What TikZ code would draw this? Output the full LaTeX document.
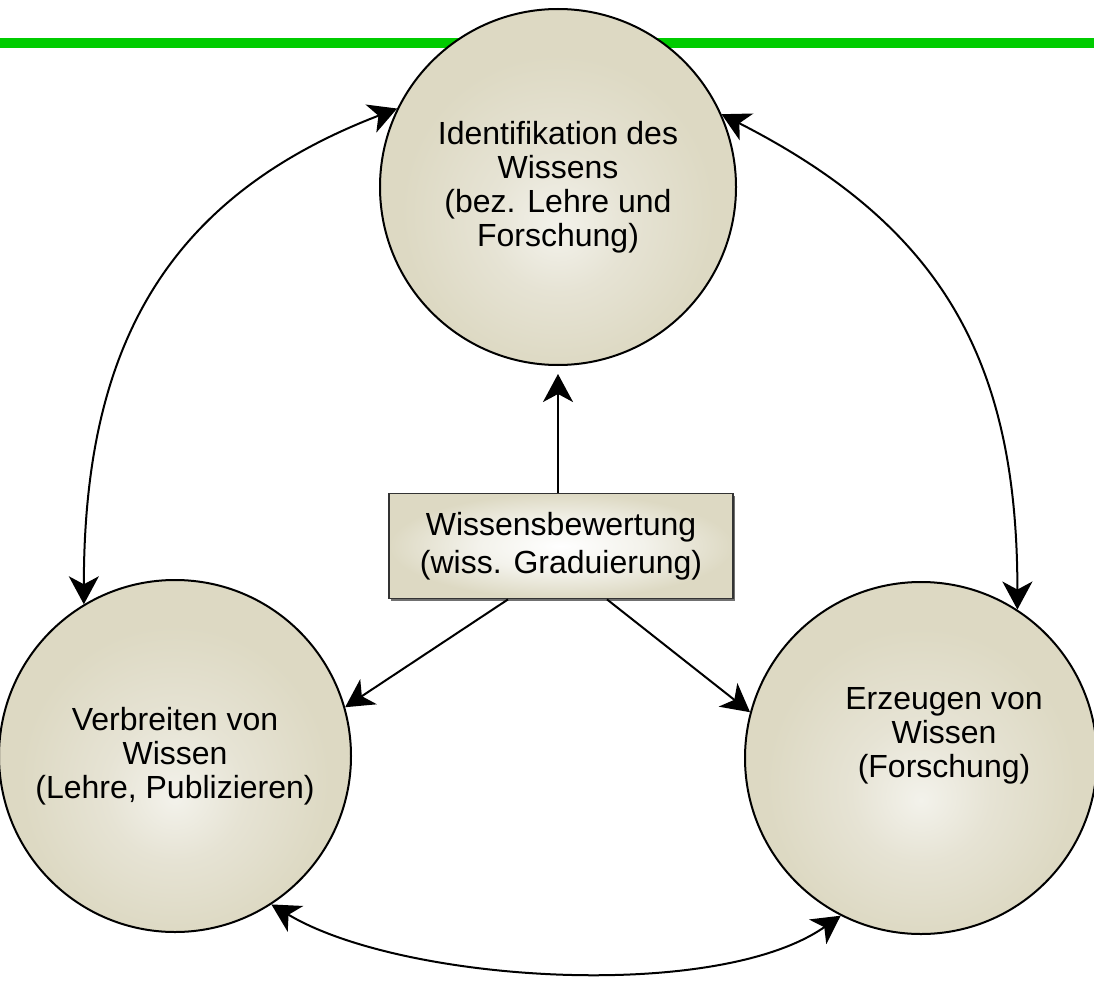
\documentclass[tikz,border=0pt]{standalone}
\usepackage{fontspec}
\setmainfont{Liberation Sans}
\usetikzlibrary{arrows.meta,calc,shadows}
\definecolor{beige}{HTML}{DDD9C3}
\definecolor{beigelight}{HTML}{F3F2EB}
\definecolor{beigemid}{HTML}{E6E3D4}
\definecolor{gline}{HTML}{00CC00}
\pgfdeclareradialshading{glow}{\pgfpoint{0bp}{-6bp}}{color(0bp)=(beigelight); color(10bp)=(beigemid); color(22bp)=(beige); color(50bp)=(beige)}
\pgfdeclareradialshading{boxglow}{\pgfpoint{0bp}{0bp}}{color(0bp)=(white); color(12bp)=(beigelight); color(25bp)=(beige); color(50bp)=(beige)}
\tikzset{
  bubble/.style={circle, draw=black, line width=2pt, minimum size=352pt, inner sep=0pt,
    shade, shading=glow, align=center, font=\fontsize{32}{34}\selectfont},
  ctext/.style={align=center, font=\fontsize{32}{34}\selectfont, inner sep=0pt},
  sbox/.style={rectangle, draw=black!80, line width=1.8pt, minimum width=344pt, minimum height=105pt,
    shade, shading=boxglow, align=center, font=\fontsize{32}{38}\selectfont,
    drop shadow={shadow xshift=2pt, shadow yshift=-2.5pt, fill=black!70, opacity=0.8}},
  conn/.style={draw=black, line width=2pt},
  greenbar/.style={draw=gline, line width=10pt}
}
\begin{document}
\begin{tikzpicture}[x=1pt,y=-1pt, >={Stealth[length=28pt,width=30pt,inset=8pt]}]
\useasboundingbox (0,0) rectangle (1094,1003);
\coordinate (gl) at (0,43);
\coordinate (gr) at (1094,43);
\draw[greenbar] (gl) -- (gr);

\node[bubble, minimum size=356pt] (T) at (558,187) {Identifikation des\\Wissens\\(bez. Lehre und\\Forschung)};
\node[bubble] (L) at (175,756) {Verbreiten von\\Wissen\\(Lehre, Publizieren)};
\node[bubble] (R) at (921,758) {};
\node[ctext] (Rt) at (944,736) {Erzeugen von\\Wissen\\(Forschung)};

\node[sbox] (B) at (561,546) {Wissensbewertung\\(wiss. Graduierung)};

\draw[conn,->,shorten >=8pt] (B.north -| T.south) -- (T.south);
\draw[conn,->] ($(B.south)+(-53,0)$) -- (L.16);
\draw[conn,->] ($(B.south)+(46,0)$) -- (R.165);

\draw[conn,<->] (L.121) to[out=90,in=201,looseness=1.1] (T.154);
\draw[conn,<->] (T.24) to[out=-27,in=90,looseness=1.1] (R.57);
\draw[conn,<->] (L.-57) to[out=-31,in=215,looseness=0.68] (R.-117);
\end{tikzpicture}
\end{document}
